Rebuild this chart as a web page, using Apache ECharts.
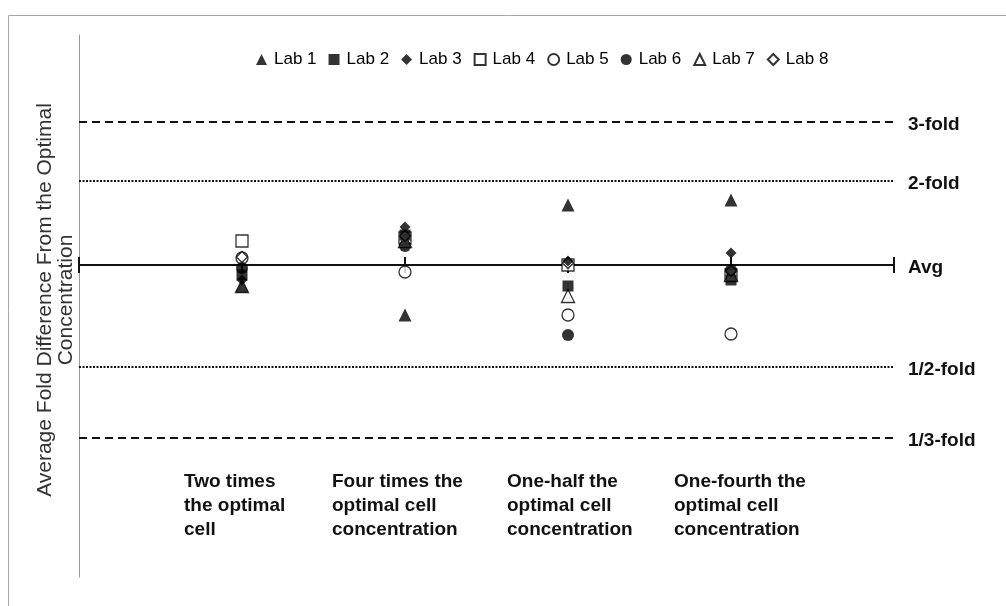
<!DOCTYPE html>
<html><head><meta charset="utf-8">
<script src="https://cdn.jsdelivr.net/npm/echarts@6/dist/echarts.min.js"></script>
<style>html,body{margin:0;padding:0;background:#fff}#c{width:1006px;height:606px}</style>
</head><body><div id="c"></div>
<script>
// Category names (x positions 1..4)
const categories = ['Two times\nthe optimal\ncell', 'Four times the\noptimal cell\nconcentration', 'One-half the\noptimal cell\nconcentration', 'One-fourth the\noptimal cell\nconcentration'];
const labNames = ['Lab 1', 'Lab 2', 'Lab 3', 'Lab 4', 'Lab 5', 'Lab 6', 'Lab 7', 'Lab 8'];
// Values: offset from the Avg line (Avg = 0), one per category
const lab1 = [-21, -50, 60, 65];
const lab2 = [-10, 30, -21, -15];
const lab3 = [-15, 38, 4, 12];
const lab4 = [24, 27, 0, -10];
const lab5 = [7, -7, -50, -69];
const lab6 = [-3, 19, -70, -5];
const lab7 = [-21, 24, -31, -10];
const lab8 = [8, 29, 2, -6];
const refNames = ['3-fold', '2-fold', 'Avg', '1/2-fold', '1/3-fold'];
const refValues = [143, 84, 0, -102, -173];
const yTitle = 'Average Fold Difference From the Optimal\nConcentration';

const FONT = "'Liberation Sans', Arial, sans-serif";
const labData = [lab1, lab2, lab3, lab4, lab5, lab6, lab7, lab8];
const symbols = ['triangle', 'rect', 'diamond', 'rect', 'circle', 'circle', 'triangle', 'diamond'];
const hollow = [false, false, false, true, true, false, true, true];
const sizes = [13, 11, 11, 12, 12, 12, 13, 11];

const chart = echarts.init(document.getElementById('c'));
const series = [];
const refStyles = [
  {type: [8, 5], width: 2},
  {type: [2, 1.5], width: 2},
  {type: 'solid', width: 2},
  {type: [2, 1.5], width: 2},
  {type: [8, 5], width: 2}
];
refNames.forEach((n, i) => {
  const isAvg = n === 'Avg';
  const xs = isAvg ? [0, 1, 2, 3, 4, 5] : [0, 5];
  series.push({
    name: n, type: 'line', silent: true, z: 1,
    data: xs.map(x => [x, refValues[i]]),
    symbol: isAvg ? 'rect' : 'none',
    symbolSize: [2, 16], showAllSymbol: true,
    itemStyle: {color: '#111'},
    lineStyle: {color: '#111', width: refStyles[i].width, type: refStyles[i].type},
    endLabel: {show: true, formatter: n, distance: 14, offset: [0, 3], color: '#111', fontWeight: 'bold', fontSize: 19, fontFamily: FONT},
    animation: false
  });
});
labNames.forEach((n, i) => {
  series.push({
    name: n, type: 'scatter', z: hollow[i] ? 2 : 3,
    data: labData[i].map((v, k) => [k + 1, v]),
    symbol: symbols[i], symbolSize: sizes[i],
    itemStyle: hollow[i] ? {color: '#fff', borderColor: '#000', borderWidth: 1.3} : {color: '#000', borderColor: '#000', borderWidth: 0},
    animation: false
  });
});

const graphics = [
  {type: 'rect', shape: {x: 8.5, y: 15.5, width: 1010, height: 620}, style: {fill: 'none', stroke: '#a6a6a6', lineWidth: 1}, silent: true},
  {type: 'text', x: 56, y: 300, rotation: Math.PI / 2,
   style: {text: yTitle, fill: '#333', font: '21px ' + FONT, textAlign: 'center', textVerticalAlign: 'middle', lineHeight: 21}}
];
const labelLeft = [184, 332, 507, 674];
categories.forEach((c, i) => {
  graphics.push({type: 'text', left: labelLeft[i], top: 470,
    style: {text: c, fill: '#111', font: 'bold 19px ' + FONT, lineHeight: 24}});
});

chart.setOption({
  backgroundColor: '#fff',
  animation: false,
  grid: {left: 79, right: 112, top: 35, bottom: 29},
  xAxis: {type: 'value', min: 0, max: 5, show: false},
  yAxis: {type: 'value', min: -312, max: 230, splitLine: {show: false},
    axisLine: {show: true, lineStyle: {color: '#999', width: 1}}, axisTick: {show: false}, axisLabel: {show: false}},
  legend: {data: labNames, left: 251, top: 46, itemWidth: 11, itemHeight: 11, itemGap: 12,
    textStyle: {fontSize: 17, color: '#000', fontFamily: FONT, padding: [0, 0, 0, 2]}},
  series: series,
  graphic: graphics
});
</script></body></html>
